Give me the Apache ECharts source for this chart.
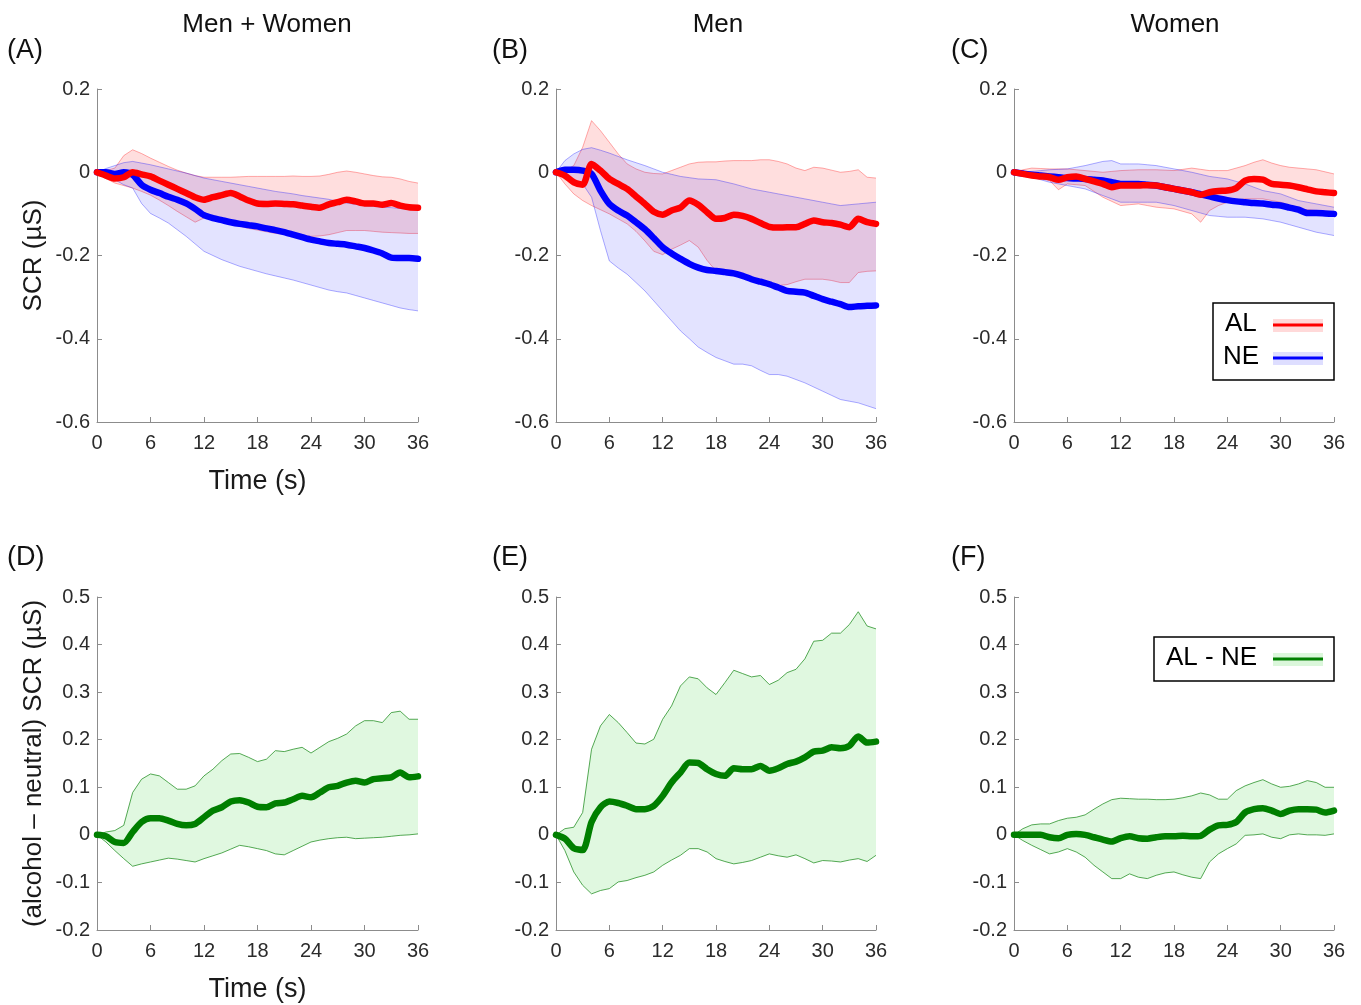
<!DOCTYPE html>
<html>
<head>
<meta charset="utf-8">
<title>SCR time course</title>
<script src="https://cdn.jsdelivr.net/npm/echarts@6/dist/echarts.min.js"></script>
<style>
    html, body { margin: 0; padding: 0; background: #fff; }
    #chart { width: 1361px; height: 1005px; }
</style>
</head>
<body>
<div id="chart"></div>
<script>
// time (s)
var T = [0, 1, 2, 3, 4, 5, 6, 7, 8, 9, 10, 11, 12, 13, 14, 15, 16, 17, 18, 19, 20,
    21, 22, 23, 24, 25, 26, 27, 28, 29, 30, 31, 32, 33, 34, 35, 36];

// (A) Men + Women
var alMeanA = [0, -0.008, -0.015, -0.012, 0, -0.005, -0.01, -0.02, -0.03, -0.04, -0.05, -0.06, -0.066, -0.06, -0.055, -0.05, -0.058, -0.068, -0.075, -0.076, -0.075, -0.076, -0.077, -0.08, -0.083, -0.085, -0.077, -0.072, -0.066, -0.07, -0.075, -0.075, -0.078, -0.074, -0.08, -0.084, -0.085];
var alHiA = [0, 0.004, 0.01, 0.04, 0.054, 0.045, 0.034, 0.024, 0.014, 0.005, -0.002, -0.008, -0.012, -0.012, -0.012, -0.012, -0.011, -0.01, -0.01, -0.01, -0.01, -0.01, -0.009, -0.01, -0.01, -0.009, -0.005, 0, 0.003, 0, -0.004, -0.008, -0.011, -0.012, -0.016, -0.022, -0.026];
var alLoA = [0, -0.015, -0.026, -0.032, -0.038, -0.046, -0.055, -0.067, -0.08, -0.094, -0.107, -0.12, -0.11, -0.112, -0.117, -0.124, -0.13, -0.135, -0.139, -0.143, -0.147, -0.149, -0.15, -0.152, -0.154, -0.153, -0.15, -0.145, -0.14, -0.14, -0.14, -0.142, -0.144, -0.145, -0.146, -0.147, -0.147];
var neMeanA = [0, 0, -0.004, 0, -0.006, -0.03, -0.042, -0.05, -0.059, -0.066, -0.075, -0.088, -0.103, -0.11, -0.115, -0.12, -0.124, -0.127, -0.13, -0.135, -0.139, -0.144, -0.15, -0.156, -0.162, -0.166, -0.17, -0.172, -0.174, -0.178, -0.182, -0.188, -0.195, -0.205, -0.206, -0.206, -0.208];
var neHiA = [0, 0.009, 0.016, 0.023, 0.026, 0.022, 0.018, 0.013, 0.008, 0.003, -0.002, -0.008, -0.014, -0.018, -0.022, -0.026, -0.03, -0.034, -0.038, -0.042, -0.046, -0.049, -0.052, -0.056, -0.059, -0.062, -0.065, -0.07, -0.074, -0.077, -0.08, -0.082, -0.084, -0.085, -0.087, -0.089, -0.09];
var neLoA = [0, -0.01, -0.018, -0.03, -0.038, -0.075, -0.099, -0.11, -0.122, -0.138, -0.154, -0.172, -0.19, -0.2, -0.21, -0.218, -0.226, -0.232, -0.238, -0.244, -0.249, -0.254, -0.259, -0.265, -0.271, -0.277, -0.283, -0.287, -0.29, -0.296, -0.302, -0.308, -0.314, -0.32, -0.326, -0.33, -0.333];

// (B) Men
var alMeanB = [0, -0.008, -0.024, -0.03, 0.02, 0.004, -0.016, -0.028, -0.04, -0.058, -0.076, -0.095, -0.102, -0.092, -0.085, -0.068, -0.078, -0.096, -0.112, -0.11, -0.102, -0.105, -0.112, -0.122, -0.131, -0.133, -0.132, -0.132, -0.124, -0.116, -0.12, -0.122, -0.126, -0.132, -0.112, -0.12, -0.124];
var alHiB = [0, 0.004, 0.016, 0.06, 0.124, 0.1, 0.072, 0.044, 0.02, 0.008, 0, -0.003, -0.004, 0.004, 0.012, 0.02, 0.024, 0.025, 0.025, 0.027, 0.028, 0.028, 0.028, 0.03, 0.03, 0.026, 0.02, 0.01, 0.004, 0.012, 0.01, 0.005, 0, 0.002, 0.006, -0.012, -0.014];
var alLoB = [0, -0.028, -0.052, -0.068, -0.08, -0.09, -0.1, -0.112, -0.124, -0.142, -0.165, -0.19, -0.198, -0.185, -0.175, -0.164, -0.18, -0.212, -0.237, -0.245, -0.242, -0.25, -0.26, -0.267, -0.273, -0.272, -0.27, -0.263, -0.257, -0.257, -0.257, -0.26, -0.265, -0.265, -0.241, -0.238, -0.237];
var neMeanB = [0, 0.006, 0.006, 0.004, -0.004, -0.044, -0.076, -0.092, -0.104, -0.12, -0.137, -0.158, -0.18, -0.195, -0.208, -0.22, -0.229, -0.235, -0.237, -0.24, -0.243, -0.249, -0.257, -0.263, -0.269, -0.277, -0.285, -0.287, -0.289, -0.297, -0.305, -0.311, -0.317, -0.324, -0.322, -0.321, -0.32];
var neHiB = [0, 0.028, 0.044, 0.055, 0.059, 0.053, 0.046, 0.038, 0.03, 0.023, 0.016, 0.008, 0, -0.005, -0.01, -0.013, -0.016, -0.017, -0.018, -0.023, -0.028, -0.034, -0.04, -0.044, -0.048, -0.052, -0.056, -0.06, -0.064, -0.068, -0.072, -0.076, -0.08, -0.078, -0.076, -0.074, -0.072];
var neLoB = [0, -0.012, -0.02, -0.028, -0.06, -0.14, -0.213, -0.23, -0.245, -0.265, -0.285, -0.309, -0.333, -0.357, -0.381, -0.4, -0.42, -0.433, -0.445, -0.453, -0.461, -0.461, -0.465, -0.476, -0.486, -0.486, -0.49, -0.498, -0.506, -0.516, -0.526, -0.536, -0.546, -0.55, -0.554, -0.561, -0.568];

// (C) Women
var alMeanC = [0, -0.004, -0.008, -0.01, -0.012, -0.018, -0.012, -0.01, -0.016, -0.022, -0.028, -0.036, -0.032, -0.032, -0.032, -0.031, -0.032, -0.036, -0.04, -0.044, -0.048, -0.054, -0.048, -0.045, -0.044, -0.038, -0.02, -0.016, -0.018, -0.028, -0.03, -0.032, -0.036, -0.041, -0.046, -0.048, -0.05];
var alHiC = [0, 0.006, 0.01, 0.009, 0.008, 0.008, 0.008, 0.006, 0.004, 0.002, 0, 0.002, 0.004, 0.005, 0.006, 0.006, 0.006, 0.005, 0.004, 0.007, 0.01, 0.007, 0.004, 0.004, 0.004, 0.01, 0.016, 0.024, 0.03, 0.022, 0.016, 0.012, 0.01, 0.008, 0.006, 0.001, -0.004];
var alLoC = [0, -0.006, -0.012, -0.016, -0.02, -0.042, -0.028, -0.03, -0.032, -0.046, -0.06, -0.07, -0.08, -0.078, -0.076, -0.08, -0.084, -0.086, -0.088, -0.094, -0.1, -0.12, -0.092, -0.08, -0.072, -0.068, -0.064, -0.064, -0.064, -0.068, -0.072, -0.08, -0.088, -0.09, -0.092, -0.094, -0.096];
var neMeanC = [0, -0.003, -0.006, -0.008, -0.01, -0.012, -0.014, -0.015, -0.016, -0.018, -0.02, -0.024, -0.028, -0.028, -0.028, -0.03, -0.032, -0.036, -0.04, -0.044, -0.048, -0.053, -0.058, -0.063, -0.067, -0.07, -0.072, -0.074, -0.075, -0.078, -0.08, -0.085, -0.09, -0.098, -0.098, -0.099, -0.1];
var neHiC = [0, 0.001, 0.002, 0.004, 0.006, 0.007, 0.008, 0.012, 0.016, 0.021, 0.026, 0.028, 0.02, 0.02, 0.02, 0.018, 0.016, 0.012, 0.008, 0.004, 0, -0.005, -0.01, -0.013, -0.016, -0.022, -0.028, -0.036, -0.044, -0.048, -0.052, -0.06, -0.068, -0.072, -0.076, -0.08, -0.084];
var neLoC = [0, -0.006, -0.012, -0.018, -0.024, -0.028, -0.032, -0.036, -0.04, -0.048, -0.056, -0.064, -0.072, -0.072, -0.072, -0.072, -0.072, -0.076, -0.08, -0.086, -0.092, -0.098, -0.104, -0.106, -0.108, -0.108, -0.108, -0.11, -0.112, -0.116, -0.12, -0.126, -0.132, -0.138, -0.144, -0.148, -0.152];

// (D)-(F) alcohol - neutral
var difMeanD = [0, -0.003, -0.015, -0.017, 0.006, 0.027, 0.035, 0.035, 0.03, 0.023, 0.02, 0.023, 0.037, 0.051, 0.058, 0.07, 0.073, 0.068, 0.059, 0.058, 0.066, 0.068, 0.075, 0.082, 0.079, 0.089, 0.1, 0.103, 0.11, 0.114, 0.11, 0.117, 0.119, 0.121, 0.131, 0.121, 0.123];
var difHiD = [0, 0.006, 0.009, 0.02, 0.089, 0.117, 0.128, 0.124, 0.11, 0.096, 0.096, 0.103, 0.124, 0.138, 0.156, 0.17, 0.171, 0.163, 0.154, 0.159, 0.177, 0.175, 0.18, 0.184, 0.172, 0.184, 0.196, 0.203, 0.212, 0.229, 0.24, 0.24, 0.236, 0.257, 0.26, 0.243, 0.243];
var difLoD = [0, -0.015, -0.033, -0.05, -0.066, -0.061, -0.057, -0.053, -0.049, -0.051, -0.054, -0.057, -0.05, -0.044, -0.038, -0.03, -0.022, -0.025, -0.029, -0.033, -0.04, -0.042, -0.033, -0.024, -0.015, -0.011, -0.008, -0.006, -0.005, -0.008, -0.007, -0.006, -0.005, -0.003, -0.001, 0, 0.002];
var difMeanE = [0, -0.008, -0.028, -0.032, 0.027, 0.058, 0.07, 0.067, 0.061, 0.054, 0.054, 0.061, 0.082, 0.11, 0.131, 0.152, 0.151, 0.138, 0.128, 0.124, 0.14, 0.138, 0.138, 0.145, 0.135, 0.14, 0.149, 0.154, 0.163, 0.175, 0.177, 0.184, 0.182, 0.187, 0.207, 0.194, 0.196];
var difHiE = [0, 0.013, 0.016, 0.047, 0.18, 0.229, 0.253, 0.236, 0.215, 0.193, 0.191, 0.201, 0.243, 0.271, 0.313, 0.332, 0.328, 0.309, 0.295, 0.32, 0.346, 0.339, 0.332, 0.335, 0.316, 0.325, 0.341, 0.348, 0.37, 0.407, 0.409, 0.424, 0.424, 0.442, 0.469, 0.439, 0.433];
var difLoE = [0, -0.033, -0.078, -0.106, -0.124, -0.117, -0.113, -0.099, -0.096, -0.09, -0.085, -0.078, -0.064, -0.053, -0.043, -0.029, -0.029, -0.036, -0.05, -0.056, -0.061, -0.058, -0.054, -0.047, -0.04, -0.044, -0.047, -0.042, -0.05, -0.059, -0.054, -0.055, -0.057, -0.053, -0.05, -0.056, -0.043];
var difMeanF = [0, 0, 0, 0, -0.005, -0.007, 0, 0.002, 0, -0.005, -0.01, -0.014, -0.007, -0.003, -0.007, -0.008, -0.005, -0.003, -0.003, -0.002, -0.003, -0.002, 0.011, 0.02, 0.021, 0.027, 0.047, 0.054, 0.056, 0.051, 0.044, 0.051, 0.054, 0.054, 0.053, 0.047, 0.051];
var difHiF = [0, 0.013, 0.021, 0.023, 0.023, 0.03, 0.035, 0.037, 0.042, 0.054, 0.065, 0.074, 0.077, 0.076, 0.075, 0.075, 0.074, 0.074, 0.075, 0.078, 0.082, 0.088, 0.084, 0.075, 0.075, 0.093, 0.103, 0.11, 0.116, 0.107, 0.1, 0.102, 0.107, 0.114, 0.11, 0.1, 0.1];
var difLoF = [0, -0.012, -0.022, -0.031, -0.04, -0.036, -0.029, -0.036, -0.047, -0.064, -0.078, -0.092, -0.092, -0.082, -0.089, -0.092, -0.085, -0.08, -0.078, -0.084, -0.089, -0.092, -0.057, -0.04, -0.029, -0.019, -0.001, 0, 0.002, -0.005, -0.008, 0, 0.002, 0, 0, -0.001, 0.002];

var xTicks = [0, 6, 12, 18, 24, 30, 36];
var topYTicks = [-0.6, -0.4, -0.2, 0, 0.2];
var botYTicks = [-0.2, -0.1, 0, 0.1, 0.2, 0.3, 0.4, 0.5];

var colTitles = ['Men + Women', 'Men', 'Women'];
var panelLetters = ['(A)', '(B)', '(C)', '(D)', '(E)', '(F)'];

var FONT = '"Liberation Sans", Arial, sans-serif';
var RED = '#ff0000', BLUE = '#0000ff', GREEN = '#007f00';
var RED_FILL = 'rgba(255,0,0,0.13)', RED_EDGE = 'rgba(255,0,0,0.32)';
var BLUE_FILL = 'rgba(0,0,255,0.11)', BLUE_EDGE = 'rgba(0,0,255,0.32)';
var GREEN_FILL = 'rgba(0,200,0,0.12)', GREEN_EDGE = 'rgba(30,140,30,0.75)';

(function () {
    var myChart = echarts.init(document.getElementById('chart'));

    var lefts = [97, 556, 1014];
    var widths = [321, 320, 320];
    var tops = [89, 597];
    var gridH = 333;

    var grids = [], xAxes = [], yAxes = [];
    for (var r = 0; r < 2; r++) {
        for (var c = 0; c < 3; c++) {
            grids.push({ left: lefts[c], top: tops[r], width: widths[c], height: gridH });
            xAxes.push({
                type: 'value',
                gridIndex: r * 3 + c,
                min: 0, max: 36, interval: 6,
                name: c === 0 ? 'Time (s)' : '',
                nameLocation: 'middle',
                nameGap: 46,
                nameTextStyle: { fontFamily: FONT, fontSize: 27, color: '#1a1a1a' },
                axisLine: { onZero: false, lineStyle: { color: '#8c8c8c', width: 1 } },
                axisTick: { inside: true, length: 5, lineStyle: { color: '#8c8c8c' } },
                axisLabel: { fontFamily: FONT, fontSize: 20, color: '#2b2b2b', margin: 11,
                    customValues: xTicks },
                splitLine: { show: false }
            });
            yAxes.push({
                type: 'value',
                gridIndex: r * 3 + c,
                min: r === 0 ? -0.6 : -0.2,
                max: r === 0 ? 0.2 : 0.5,
                interval: r === 0 ? 0.2 : 0.1,
                name: c === 0 ? (r === 0 ? 'SCR (µS)' : '(alcohol – neutral) SCR (µS)') : '',
                nameLocation: 'middle',
                nameRotate: 90,
                nameGap: 50,
                nameTextStyle: { fontFamily: FONT, fontSize: 26, color: '#1a1a1a' },
                axisLine: { show: true, onZero: false, lineStyle: { color: '#8c8c8c', width: 1 } },
                axisTick: { show: true, inside: true, length: 5, lineStyle: { color: '#8c8c8c' } },
                axisLabel: { fontFamily: FONT, fontSize: 20, color: '#2b2b2b', margin: 7,
                    customValues: r === 0 ? topYTicks : botYTicks },
                splitLine: { show: false }
            });
        }
    }

    function bandSeries(idx, lo, hi, fill, edge) {
        return {
            type: 'custom',
            xAxisIndex: idx, yAxisIndex: idx,
            silent: true, z: 1,
            data: T.map(function (t, i) { return [t, lo[i], hi[i]]; }),
            encode: { x: 0, y: [1, 2] },
            renderItem: function (params, api) {
                if (params.dataIndex !== 0) return null;
                var up = [], dn = [];
                for (var i = 0; i < T.length; i++) {
                    up.push(api.coord([T[i], hi[i]]));
                    dn.push(api.coord([T[i], lo[i]]));
                }
                return {
                    type: 'group',
                    children: [
                        { type: 'polygon', shape: { points: up.concat(dn.slice().reverse()) },
                            style: { fill: fill, stroke: null } },
                        { type: 'polyline', shape: { points: up }, style: { fill: null, stroke: edge, lineWidth: 1 } },
                        { type: 'polyline', shape: { points: dn }, style: { fill: null, stroke: edge, lineWidth: 1 } }
                    ]
                };
            }
        };
    }

    function meanSeries(idx, name, vals, color, z) {
        return {
            name: name,
            type: 'line',
            xAxisIndex: idx, yAxisIndex: idx,
            data: T.map(function (t, i) { return [t, vals[i]]; }),
            showSymbol: false,
            smooth: 0.25,
            z: z,
            lineStyle: { color: color, width: 6.5, cap: 'round', join: 'round' },
            itemStyle: { color: color }
        };
    }

    var series = [
        bandSeries(0, alLoA, alHiA, RED_FILL, RED_EDGE),
        bandSeries(0, neLoA, neHiA, BLUE_FILL, BLUE_EDGE),
        meanSeries(0, 'NE', neMeanA, BLUE, 3),
        meanSeries(0, 'AL', alMeanA, RED, 4),

        bandSeries(1, alLoB, alHiB, RED_FILL, RED_EDGE),
        bandSeries(1, neLoB, neHiB, BLUE_FILL, BLUE_EDGE),
        meanSeries(1, 'NE', neMeanB, BLUE, 3),
        meanSeries(1, 'AL', alMeanB, RED, 4),

        bandSeries(2, alLoC, alHiC, RED_FILL, RED_EDGE),
        bandSeries(2, neLoC, neHiC, BLUE_FILL, BLUE_EDGE),
        meanSeries(2, 'NE', neMeanC, BLUE, 3),
        meanSeries(2, 'AL', alMeanC, RED, 4),

        bandSeries(3, difLoD, difHiD, GREEN_FILL, GREEN_EDGE),
        meanSeries(3, 'AL - NE', difMeanD, GREEN, 3),
        bandSeries(4, difLoE, difHiE, GREEN_FILL, GREEN_EDGE),
        meanSeries(4, 'AL - NE', difMeanE, GREEN, 3),
        bandSeries(5, difLoF, difHiF, GREEN_FILL, GREEN_EDGE),
        meanSeries(5, 'AL - NE', difMeanF, GREEN, 3)
    ];

    // column titles and panel letters
    var titles = [];
    var centers = [262, 713, 1170];
    colTitles.forEach(function (t, i) {
        titles.push({ text: t, left: centers[i], top: 7, textAlign: 'center',
            textStyle: { fontFamily: FONT, fontSize: 26, fontWeight: 'normal', color: '#111' } });
    });
    var letterX = [7, 492, 951];
    panelLetters.forEach(function (t, i) {
        titles.push({ text: t, left: letterX[i % 3], top: i < 3 ? 37 : 544, padding: 0,
            textStyle: { fontFamily: FONT, fontSize: 27, fontWeight: 'normal', color: '#111' } });
    });

    // legends (box, text, band + line sample)
    function legendRow(x, y, label, color, fill) {
        return [
            { type: 'text', left: x, top: y - 14,
                style: { text: label, font: '26px ' + FONT, fill: '#000' } },
            { type: 'rect', shape: { x: 1273, y: y - 6, width: 50, height: 13 }, style: { fill: fill } },
            { type: 'line', shape: { x1: 1273, y1: y, x2: 1323, y2: y }, style: { stroke: color, lineWidth: 3 } }
        ];
    }
    var graphic = [
        { type: 'rect', shape: { x: 1213, y: 303, width: 121, height: 77 },
            style: { fill: '#fff', stroke: '#000', lineWidth: 1.5 }, z: 10 },
        { type: 'rect', shape: { x: 1154, y: 637, width: 180, height: 44 },
            style: { fill: '#fff', stroke: '#000', lineWidth: 1.5 }, z: 10 }
    ];
    legendRow(1225, 325, 'AL', RED, 'rgba(255,0,0,0.15)')
        .concat(legendRow(1223, 358, 'NE', BLUE, 'rgba(0,0,255,0.13)'))
        .concat(legendRow(1166, 659, 'AL - NE', GREEN, 'rgba(0,200,0,0.14)'))
        .forEach(function (g) { g.z = 11; graphic.push(g); });

    option = {
        animation: false,
        backgroundColor: '#fff',
        title: titles,
        grid: grids,
        xAxis: xAxes,
        yAxis: yAxes,
        series: series,
        graphic: graphic
    };

    myChart.setOption(option);
})();
</script>
</body>
</html>
